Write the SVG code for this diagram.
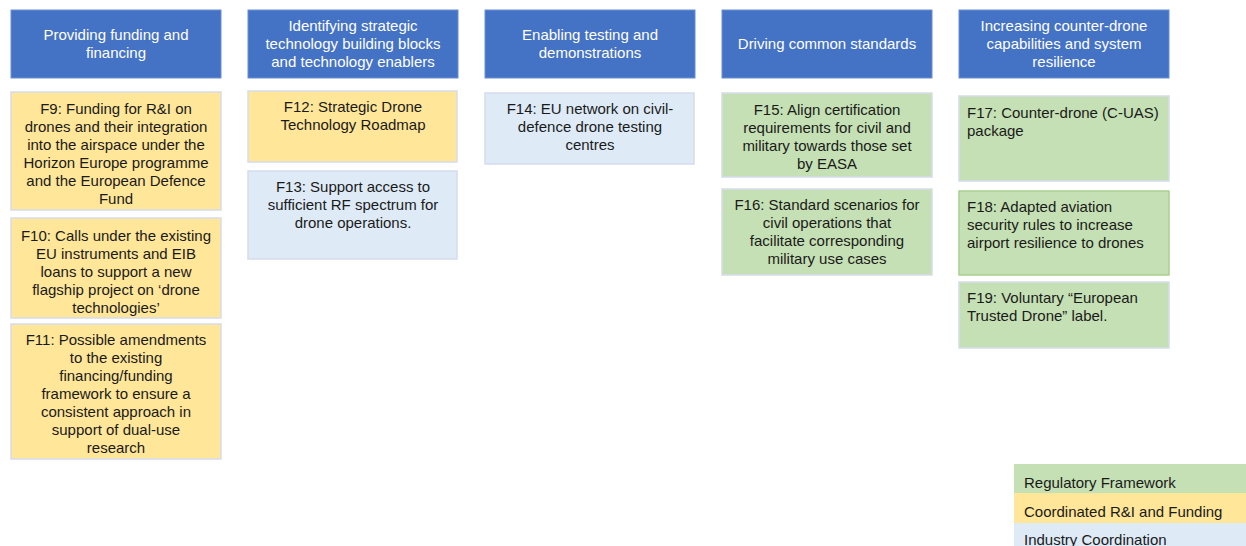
<svg xmlns="http://www.w3.org/2000/svg" width="1246" height="546" viewBox="0 0 1246 546">
<style>
text{font-family:"Liberation Sans",Arial,sans-serif;font-size:15px;fill:#1a1a1a}
.h rect{fill:#4472C4;stroke:#6A8FD3;stroke-width:1}
.h text{fill:#ffffff;text-anchor:middle}
.c text{text-anchor:middle}
.l text{text-anchor:start}
.y{fill:#FFE699;stroke:#D6DCEC;stroke-width:1.5}
.b{fill:#DEEBF7;stroke:#D6DCEC;stroke-width:1.5}
.g{fill:#C5E0B4;stroke:#D6DCEC;stroke-width:1.5}
.gg{fill:#C5E0B4;stroke:#A9D18E;stroke-width:1.5}
</style>
<rect width="1246" height="546" fill="#ffffff"/>
<g id="connectors"></g>
<g id="h1" class="h"><rect x="11" y="10" width="210" height="68"/><text x="116" y="40">Providing funding and</text><text x="116" y="58">financing</text></g>
<g id="h2" class="h"><rect x="248" y="10" width="210" height="68"/><text x="353" y="31">Identifying strategic</text><text x="353" y="49">technology building blocks</text><text x="353" y="67">and technology enablers</text></g>
<g id="h3" class="h"><rect x="485" y="10" width="210" height="68"/><text x="590" y="40">Enabling testing and</text><text x="590" y="58">demonstrations</text></g>
<g id="h4" class="h"><rect x="722" y="10" width="210" height="68"/><text x="827" y="49">Driving common standards</text></g>
<g id="h5" class="h"><rect x="959" y="10" width="210" height="68"/><text x="1064" y="31">Increasing counter-drone</text><text x="1064" y="49">capabilities and system</text><text x="1064" y="67">resilience</text></g>

<g id="f9" class="c"><rect class="y" x="11" y="92" width="210" height="118"/><text x="116" y="114">F9: Funding for R&amp;I on</text><text x="116" y="132">drones and their integration</text><text x="116" y="150">into the airspace under the</text><text x="116" y="168">Horizon Europe programme</text><text x="116" y="186">and the European Defence</text><text x="116" y="204">Fund</text></g>
<g id="f10" class="c"><rect class="y" x="11" y="218" width="210" height="100"/><text x="116" y="240.5">F10: Calls under the existing</text><text x="116" y="258.5">EU instruments and EIB</text><text x="116" y="276.5">loans to support a new</text><text x="116" y="294.5">flagship project on ‘drone</text><text x="116" y="312.5">technologies’</text></g>
<g id="f11" class="c"><rect class="y" x="11" y="324" width="210" height="135"/><text x="116" y="345">F11: Possible amendments</text><text x="116" y="363">to the existing</text><text x="116" y="381">financing/funding</text><text x="116" y="399">framework to ensure a</text><text x="116" y="417">consistent approach in</text><text x="116" y="435">support of dual-use</text><text x="116" y="453">research</text></g>

<g id="f12" class="c"><rect class="y" x="248" y="91" width="209" height="71"/><text x="353" y="112">F12: Strategic Drone</text><text x="353" y="130">Technology Roadmap</text></g>
<g id="f13" class="c"><rect class="b" x="248" y="171" width="209" height="88"/><text x="353" y="192">F13: Support access to</text><text x="353" y="210">sufficient RF spectrum for</text><text x="353" y="228">drone operations.</text></g>

<g id="f14" class="c"><rect class="b" x="485" y="93" width="209" height="71"/><text x="590" y="114">F14: EU network on civil-</text><text x="590" y="132">defence drone testing</text><text x="590" y="150">centres</text></g>

<g id="f15" class="c"><rect class="g" x="722" y="93" width="210" height="84"/><text x="827" y="115">F15: Align certification</text><text x="827" y="133">requirements for civil and</text><text x="827" y="151">military towards those set</text><text x="827" y="169">by EASA</text></g>
<g id="f16" class="c"><rect class="g" x="722" y="189" width="210" height="86"/><text x="827" y="210">F16: Standard scenarios for</text><text x="827" y="228">civil operations that</text><text x="827" y="246">facilitate corresponding</text><text x="827" y="264">military use cases</text></g>

<g id="f17" class="l"><rect class="g" x="959" y="96" width="210" height="85"/><text x="967" y="118">F17: Counter-drone (C-UAS)</text><text x="967" y="136">package</text></g>
<g id="f18" class="l"><rect class="gg" x="959" y="191" width="210" height="84"/><text x="967" y="212">F18: Adapted aviation</text><text x="967" y="230">security rules to increase</text><text x="967" y="248">airport resilience to drones</text></g>
<g id="f19" class="l"><rect class="g" x="959" y="282" width="210" height="66"/><text x="967" y="303">F19: Voluntary “European</text><text x="967" y="321">Trusted Drone” label.</text></g>

<g id="legend" class="l">
<rect x="1014" y="464" width="232" height="29" fill="#C5E0B4"/>
<rect x="1014" y="493" width="232" height="30" fill="#FFE699"/>
<rect x="1014" y="523" width="232" height="23" fill="#DEEBF7"/>
<text x="1024" y="488">Regulatory Framework</text>
<text x="1024" y="517">Coordinated R&amp;I and Funding</text>
<text x="1024" y="545">Industry Coordination</text>
</g>
</svg>
